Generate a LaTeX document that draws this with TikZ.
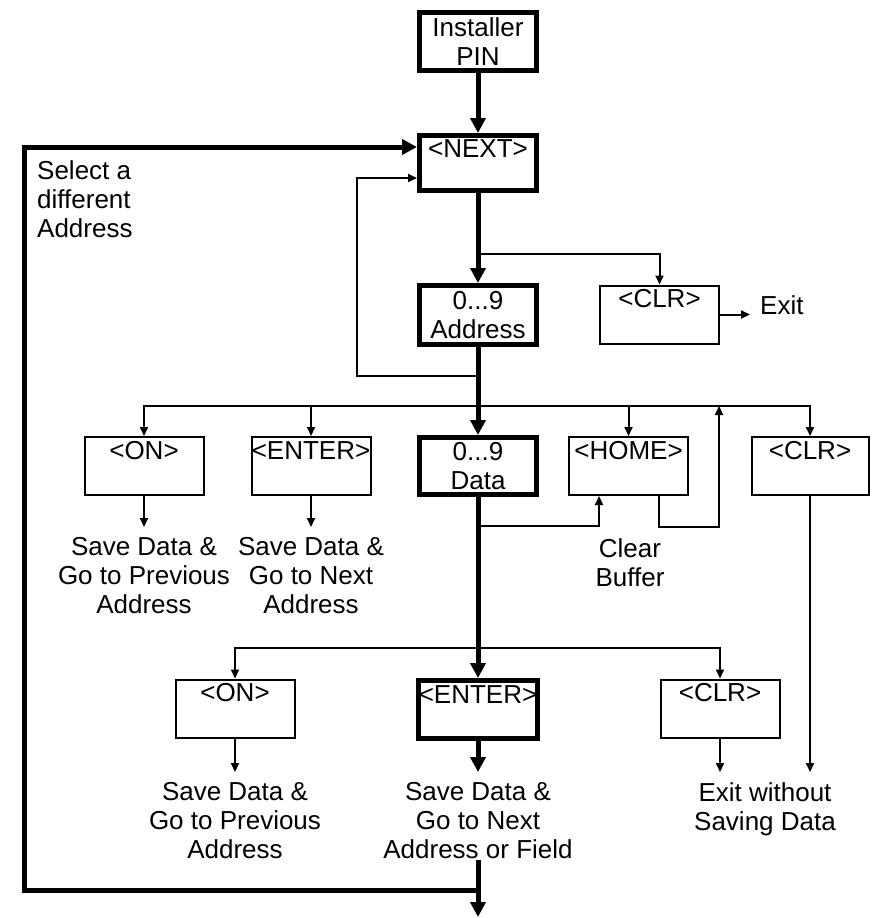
\documentclass[tikz,border=0pt]{standalone}
\usepackage{fontspec}
\setmainfont{Liberation Sans}
\usetikzlibrary{arrows.meta}
\tikzset{
  every picture/.style={font=\fontsize{26}{29}\selectfont},
  keybox/.style={draw, line width=2pt, minimum width=119pt, inner sep=0pt, text height=22pt, text depth=36pt},
  mainbox/.style={draw, line width=5pt, minimum width=117pt, minimum height=58pt, inner sep=0pt, align=center},
  flow/.style={-{Triangle[width=8pt,length=9pt]}, line width=2pt},
  mainflow/.style={-{Triangle[width=15pt,length=15pt]}, line width=5pt},
  note/.style={align=center, inner xsep=0pt, inner ysep=10pt},
}

\begin{document}
\begin{tikzpicture}[x=1pt, y=-1pt]
  \useasboundingbox (0,0) rectangle (876,918);

  % main path
  \node[mainbox] (pin) at (478,41.5) {Installer\\PIN};
  \node[mainbox, minimum height=55pt, text height=21.5pt, text depth=33.5pt] (next) at (478,163) {<NEXT>};
  \node[mainbox, minimum height=59pt] (addr) at (478,315) {0...9\\Address};
  \node[mainbox, minimum height=57pt] (data) at (478,466) {0...9\\Data};
  \node[mainbox, text height=22.5pt, text depth=35.5pt] (enter3) at (478,709.5) {<ENTER>};

  % keys
  \node[keybox] (clra) at (659.5,314.5) {<CLR>};
  \node[anchor=base west, inner sep=0pt] (exit) at (760,314) {Exit};
  \node[keybox] (on) at (144,466) {<ON>};
  \node[keybox] (enter) at (311,466) {<ENTER>};
  \node[keybox] (home) at (628.5,466) {<HOME>};
  \node[keybox, minimum width=117pt] (clrb) at (810,466) {<CLR>};
  \node[keybox] (on3) at (235,708.5) {<ON>};
  \node[keybox] (clr3) at (720,708.5) {<CLR>};

  % texts
  \node[note, anchor=north west, align=left] (sel) at (37,150) {Select a\\different\\Address};
  \node[note, anchor=north] (ont) at (144,527) {Save Data \&\\Go to Previous\\Address};
  \node[note, anchor=north] (entert) at (311,527) {Save Data \&\\Go to Next\\Address};
  \node[note, anchor=north] (clrt) at (630,528) {Clear\\Buffer};
  \node[note, anchor=north] (on3t) at (235,772) {Save Data \&\\Go to Previous\\Address};
  \node[note, anchor=north] (enter3t) at (478,772) {Save Data \&\\Go to Next\\Address or Field};
  \node[note, anchor=north] (exitt) at (765,772) {Exit without\\Saving Data};

  % junctions
  \coordinate (b1) at (478,254);
  \coordinate (fb) at (478,376);
  \coordinate (fbc) at (357,376);
  \coordinate (b2) at (478,406);
  \coordinate (dh) at (478,526);
  \coordinate (hup) at (719,406);
  \coordinate (b3) at (478,648);
  \coordinate (ftop) at (478,860);
  \coordinate (jbot) at (478,890);
  \coordinate (lc) at (24,890);
  \coordinate (tip) at (478,917);

  % thin connectors
  \draw[flow] (b1) -| (clra.north);
  \draw[flow, shorten >=10pt] (clra.east) -- (clra.east -| exit.west);
  \draw[flow] (fb) -- (fbc) |- ([yshift=-15pt]next.west);
  \draw[flow] (b2) -| (on.north);
  \draw[flow] (b2) -| (enter.north);
  \draw[flow] (b2) -| (home.north);
  \draw[flow] (b2) -| (clrb.north);
  \draw[flow] (dh) -| ([xshift=-29.5pt]home.south);
  \draw[flow] ([xshift=30.5pt]home.south) -- ++(0,31) -| (hup);
  \draw[flow] (on.south) -- (ont.north);
  \draw[flow] (enter.south) -- (entert.north);
  \draw[flow] (clrb.south) -- (clrb.south |- exitt.north);
  \draw[flow] (b3) -| (on3.north);
  \draw[flow] (b3) -| (clr3.north);
  \draw[flow] (on3.south) -- (on3t.north);
  \draw[flow] (clr3.south) -- (clr3.south |- exitt.north);

  % thick connectors
  \draw[mainflow] (pin) -- (next);
  \draw[mainflow] (next) -- (addr);
  \draw[mainflow] (addr) -- (data);
  \draw[mainflow] (data) -- (enter3);
  \draw[mainflow] (enter3) -- (enter3t);
  \draw[mainflow] (ftop) -- (tip);
  \draw[mainflow] (jbot) -- (lc) |- ([yshift=16pt]next.west);
\end{tikzpicture}
\end{document}
